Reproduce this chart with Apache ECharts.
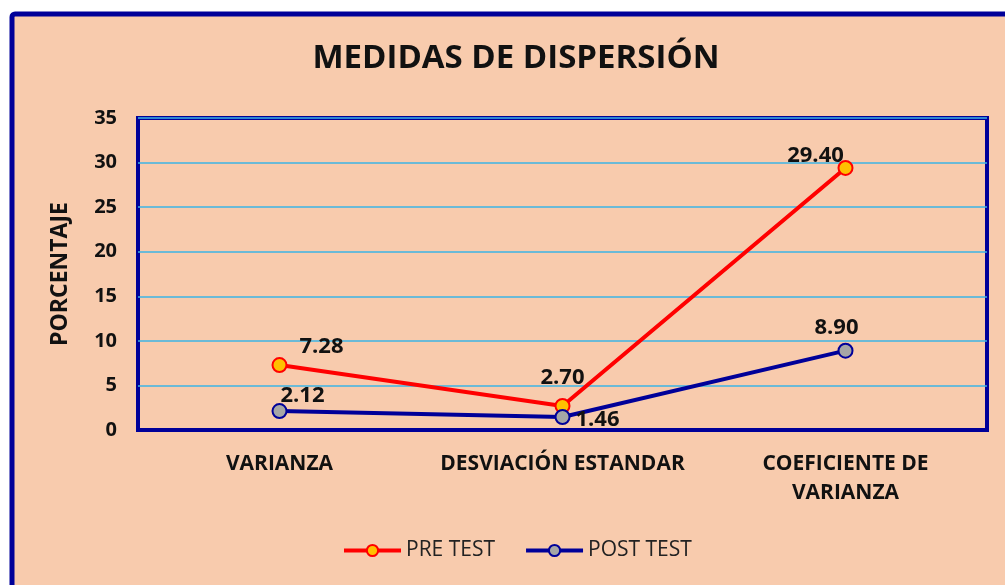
<!DOCTYPE html>
<html>
<head>
<meta charset="utf-8">
<script src="https://cdn.jsdelivr.net/npm/echarts@6/dist/echarts.min.js"></script>
<style>
html,body{margin:0;padding:0;background:#ffffff;}
#chart{width:1005px;height:585px;}
</style>
</head>
<body>
<div id="chart"></div>
<script>
var categories = ['VARIANZA', 'DESVIACIÓN ESTANDAR', 'COEFICIENTE DE\nVARIANZA'];
var preTest = [7.28, 2.70, 29.40];
var postTest = [2.12, 1.46, 8.90];
var seriesNames = ['PRE TEST', 'POST TEST'];
var yTicks = [0, 5, 10, 15, 20, 25, 30, 35];

var FONT = '"Open Sans", "Noto Sans", sans-serif';
var preLabelPos = [
  {position: 'top', offset: [42, 6]},
  {position: 'top', offset: [0, -4]},
  {position: 'top', offset: [-30, 12]}
];
var postLabelPos = [
  {position: 'top', offset: [23, 9]},
  {position: 'right', offset: [0, 3]},
  {position: 'top', offset: [-9, 1]}
];
function build(vals, pos) {
  return vals.map(function (v, i) {
    return {value: v, label: pos[i]};
  });
}

var chart = echarts.init(document.getElementById('chart'), null, {renderer: 'canvas'});
chart.setOption({
  backgroundColor: '#ffffff',
  animation: false,
  graphic: [{
    type: 'rect', z: -10, silent: true,
    shape: {x: 12, y: 14, width: 1100, height: 700, r: 3},
    style: {fill: '#F8CBAD', stroke: '#000099', lineWidth: 5}
  }],
  title: {
    text: 'MEDIDAS DE DISPERSIÓN',
    left: 511, top: 37, textAlign: 'center',
    textStyle: {fontFamily: FONT, fontSize: 33, fontWeight: 'bold', color: '#111111'}
  },
  legend: {
    data: seriesNames,
    left: 337, top: 535,
    itemWidth: 57, itemHeight: 14, itemGap: 29,
    lineStyle: {width: 4},
    textStyle: {fontFamily: FONT, fontSize: 21, color: '#222222'}
  },
  grid: {
    left: 138, right: 18, top: 118, bottom: 155,
    show: true, borderColor: '#000099', borderWidth: 4, backgroundColor: 'transparent'
  },
  xAxis: {
    type: 'category',
    data: categories,
    boundaryGap: true,
    axisLine: {lineStyle: {color: '#000099', width: 4}},
    axisTick: {show: false},
    axisLabel: {interval: 0, hideOverlap: false, margin: 20, fontFamily: FONT, fontSize: 21, fontWeight: 'bold', color: '#111111', lineHeight: 29}
  },
  yAxis: {
    type: 'value',
    min: 0, max: 35, interval: 5,
    name: 'PORCENTAJE',
    nameLocation: 'middle', nameRotate: 90, nameGap: 66,
    nameTextStyle: {fontFamily: FONT, fontSize: 23, fontWeight: 'bold', color: '#111111'},
    axisLine: {show: false},
    axisTick: {show: false},
    splitLine: {lineStyle: {color: '#3DB4E6', width: 1.5}},
    axisLabel: {
      margin: 21, fontFamily: FONT, fontSize: 20, fontWeight: 'bold', color: '#111111',
      formatter: function (v) { return yTicks.indexOf(v) >= 0 ? String(v) : ''; }
    }
  },
  series: [{
    name: seriesNames[0],
    type: 'line',
    data: build(preTest, preLabelPos),
    symbol: 'circle', symbolSize: 14,
    lineStyle: {color: '#FF0000', width: 4},
    itemStyle: {color: '#FFC000', borderColor: '#FF0000', borderWidth: 2},
    label: {show: true, distance: 5, fontFamily: FONT, fontSize: 22, fontWeight: 'bold', color: '#111111',
      formatter: function (p) { return p.value.toFixed(2); }},
    z: 3
  }, {
    name: seriesNames[1],
    type: 'line',
    data: build(postTest, postLabelPos),
    symbol: 'circle', symbolSize: 14,
    lineStyle: {color: '#000099', width: 4},
    itemStyle: {color: '#A6A6A6', borderColor: '#000099', borderWidth: 2},
    label: {show: true, distance: 5, fontFamily: FONT, fontSize: 22, fontWeight: 'bold', color: '#111111',
      formatter: function (p) { return p.value.toFixed(2); }},
    z: 4
  }]
});
</script>
</body>
</html>
